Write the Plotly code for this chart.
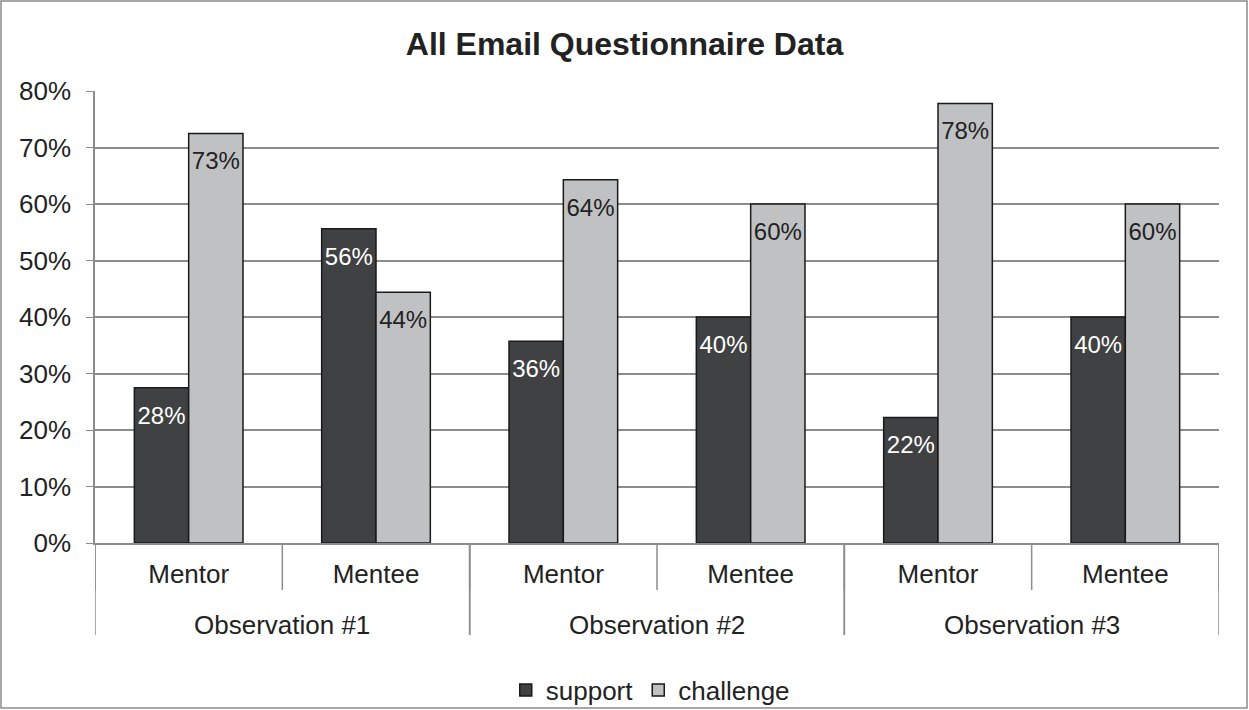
import plotly.graph_objects as go

observations = ["Observation #1", "Observation #1", "Observation #2", "Observation #2", "Observation #3", "Observation #3"]
roles = ["Mentor", "Mentee", "Mentor", "Mentee", "Mentor", "Mentee"]
support = [27.5, 55.6, 35.7, 40.0, 22.2, 40.0]
challenge = [72.5, 44.4, 64.3, 60.0, 77.8, 60.0]
y_ticks = [0, 10, 20, 30, 40, 50, 60, 70, 80]

FONT = "Liberation Sans, Arial, sans-serif"
GRID = "#8c8c8c"
GAP = 0.42

idx = list(range(len(roles)))
groups = list(dict.fromkeys(observations))
group_members = {g: [i for i, o in enumerate(observations) if o == g] for g in groups}


def pct(v):
    return f"{int(v + 0.5)}%"


fig = go.Figure()
series = [("support", support, "#404142", "white"), ("challenge", challenge, "#c0c1c3", "#222222")]
for name, vals, color, tcol in series:
    fig.add_trace(go.Bar(
        name=name, x=idx, y=vals, offsetgroup=name,
        marker=dict(color=color, line=dict(color="#1a1a1a", width=1.5)),
        hovertemplate="%{y:.1f}%<extra>" + name + "</extra>",
    ))
for name, vals, color, tcol in series:
    fig.add_trace(go.Scatter(
        x=idx, y=vals, offsetgroup=name, mode="markers+text",
        marker=dict(size=27, opacity=0), text=[pct(v) for v in vals],
        textposition="bottom center", textfont=dict(color=tcol, size=24, family=FONT),
        showlegend=False, hoverinfo="skip",
    ))

shapes = [dict(type="rect", xref="paper", yref="paper",
               x0=-94 / 1124, x1=1152 / 1124, y0=-165 / 452, y1=542 / 452,
               line=dict(color=GRID, width=1.5), layer="below")]
# dividers between the categories
for b in [i - 0.5 for i in idx] + [idx[-1] + 0.5]:
    shapes.append(dict(type="line", xref="x", yref="paper", x0=b, x1=b, y0=0, y1=-47 / 452,
                       line=dict(color=GRID, width=1.5)))
# dividers between the observation groups
for g in groups:
    for b in (min(group_members[g]) - 0.5, max(group_members[g]) + 0.5):
        shapes.append(dict(type="line", xref="x", yref="paper", x0=b, x1=b, y0=0, y1=-92 / 452,
                           line=dict(color=GRID, width=1.5)))

annotations = [dict(text=g, x=sum(group_members[g]) / len(group_members[g]), xref="x",
                    y=-82 / 452, yref="paper", yanchor="middle", showarrow=False,
                    font=dict(size=26, color="#222222", family=FONT)) for g in groups]

fig.update_layout(
    width=1249, height=710,
    margin=dict(l=95, r=30, t=91, b=167, autoexpand=False),
    paper_bgcolor="white", plot_bgcolor="white",
    font=dict(family=FONT, size=26, color="#222222"),
    title=dict(text="<b>All Email Questionnaire Data</b>", x=0.5, xanchor="center",
               y=1 - 44 / 710, yanchor="middle", font=dict(size=32, color="#222222")),
    barmode="group", bargap=GAP, bargroupgap=0,
    scattermode="group", scattergap=GAP,
    showlegend=True,
    legend=dict(orientation="h", x=0.494, xanchor="center", y=-147 / 452, yanchor="middle",
                font=dict(size=26), traceorder="normal", bgcolor="rgba(0,0,0,0)"),
    shapes=shapes, annotations=annotations,
)
fig.update_yaxes(range=[0, 80], tickvals=y_ticks, ticktext=[f"{v}%" for v in y_ticks],
                 showgrid=True, gridcolor=GRID, gridwidth=1.5,
                 showline=True, linecolor=GRID, linewidth=1.5,
                 ticks="outside", ticklen=7, tickcolor=GRID, zeroline=False,
                 ticklabelstandoff=10, tickfont=dict(size=26))
fig.update_xaxes(range=[-0.5, len(roles) - 0.5], tickvals=idx, ticktext=roles,
                 showline=True, linecolor=GRID, linewidth=1.5, showgrid=False, zeroline=False,
                 ticks="", ticklabelstandoff=7, tickfont=dict(size=26))

fig.write_html("out.html", config={"displayModeBar": False},
               post_script="document.body.style.margin='0';document.body.style.overflow='hidden';")
